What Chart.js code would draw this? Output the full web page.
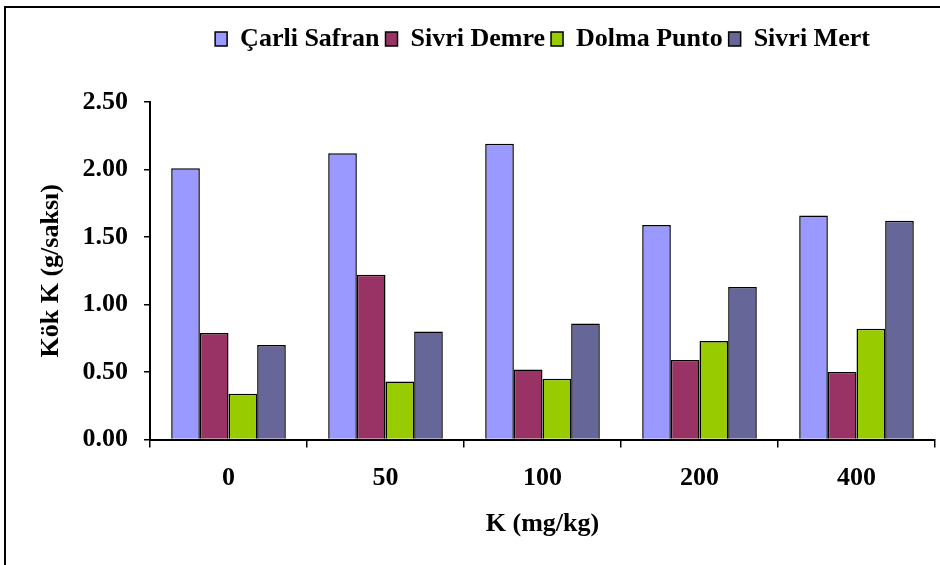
<!DOCTYPE html>
<html lang="en">
<head>
    <meta charset="UTF-8">
    <title>Kök K</title>
    <script src="https://cdn.jsdelivr.net/npm/chart.js"></script>
    <style>
        * { margin: 0; padding: 0; box-sizing: border-box; }
        body { width: 940px; height: 565px; background: #fff; overflow: hidden; }
        .frame {
            position: absolute;
            left: 4px; top: 6px;
            width: 940px; height: 565px;
            border-left: 2px solid #000;
            border-top: 2px solid #000;
        }
        .wrap { position: absolute; left: 0; top: 0; width: 940px; height: 565px; }
    </style>
</head>
<body>
    <div class="frame"></div>
    <div class="wrap"><canvas id="chart" width="940" height="565"></canvas></div>

    <script>
        // data
        const categories = ['0', '50', '100', '200', '400'];
        const carliSafran = [2.01, 2.12, 2.19, 1.59, 1.66];
        const sivriDemre = [0.79, 1.22, 0.52, 0.59, 0.50];
        const dolmaPunto = [0.34, 0.43, 0.45, 0.73, 0.82];
        const sivriMert = [0.70, 0.80, 0.86, 1.13, 1.62];
        const yTicks = [0, 0.5, 1, 1.5, 2, 2.5];

        const font = 'Liberation Serif';
        const bold = { family: font, size: 26, weight: 'bold' };

        const ds = (label, data, color) => ({
            label, data,
            backgroundColor: color,
            borderColor: '#000',
            borderWidth: 1.5,
            borderSkipped: 'bottom',
            categoryPercentage: 0.73,
            barPercentage: 1
        });

        // extra room between the legend and the plot
        const legendGap = {
            id: 'legendGap',
            beforeInit(chart) {
                const fit = chart.legend.fit;
                chart.legend.fit = function () {
                    fit.call(this);
                    this.height += 40;
                };
            }
        };

        new Chart(document.getElementById('chart'), {
            type: 'bar',
            data: {
                labels: categories,
                datasets: [
                    ds('Çarli Safran', carliSafran, '#9999FF'),
                    ds('Sivri Demre', sivriDemre, '#993366'),
                    ds('Dolma Punto', dolmaPunto, '#99CC00'),
                    ds('Sivri Mert', sivriMert, '#666699')
                ]
            },
            plugins: [legendGap],
            options: {
                responsive: false,
                animation: false,
                layout: { padding: { left: 10, right: 5, top: 20, bottom: 25 } },
                plugins: {
                    legend: {
                        position: 'top',
                        fullSize: false,
                        labels: {
                            boxWidth: 12, boxHeight: 14,
                            color: '#000',
                            padding: 6,
                            font: bold
                        }
                    },
                    tooltip: { enabled: false }
                },
                scales: {
                    x: {
                        grid: { offset: true, drawOnChartArea: false, tickLength: 8, color: '#000', lineWidth: 1.5 },
                        border: { color: '#000', width: 2 },
                        ticks: { color: '#000', padding: 15, font: bold },
                        title: { display: true, text: 'K (mg/kg)', color: '#000', padding: 0, font: bold }
                    },
                    y: {
                        min: 0, max: 2.5,
                        afterBuildTicks: s => { s.ticks = yTicks.map(v => ({ value: v })); },
                        afterFit: s => { s.width = 140; },
                        grid: { drawOnChartArea: false, tickLength: 6, color: '#000', lineWidth: 1.5 },
                        border: { color: '#000', width: 2 },
                        ticks: { color: '#000', padding: 16, callback: v => v.toFixed(2), font: bold },
                        title: { display: true, text: 'Kök K (g/saksı)', color: '#000', padding: { top: 26 }, font: bold }
                    }
                }
            }
        });
    </script>
</body>
</html>
